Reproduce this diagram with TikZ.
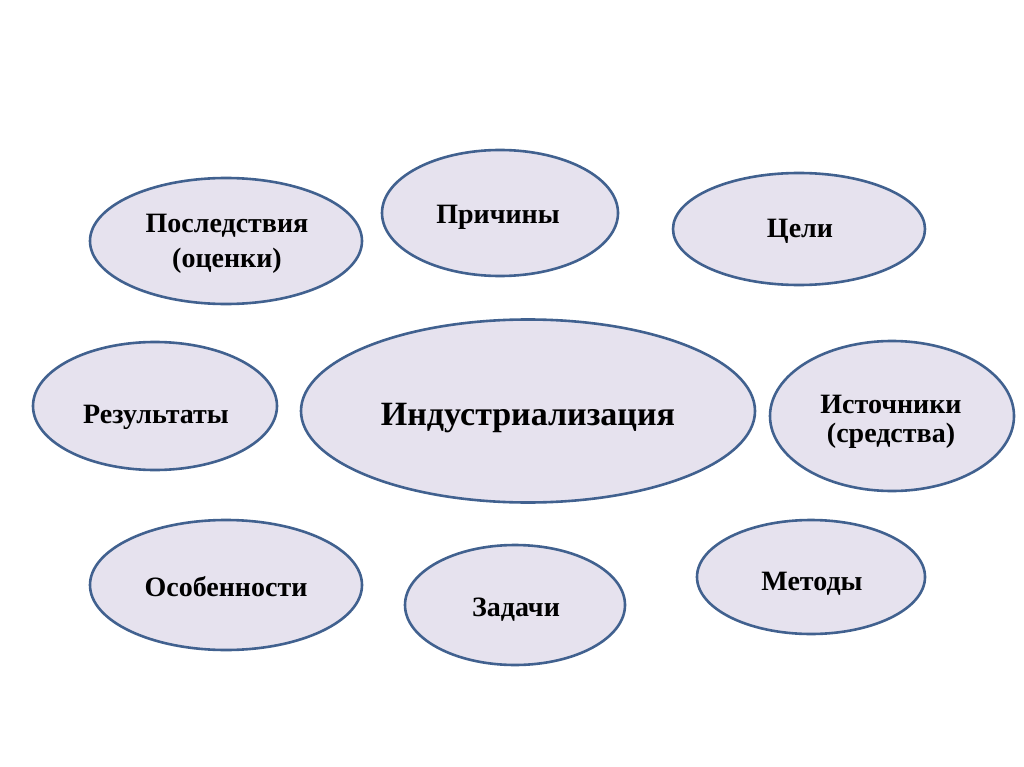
\documentclass[tikz,border=0pt]{standalone}
\usepackage{fontspec}
\setmainfont{Liberation Serif}
\usetikzlibrary{shapes.geometric}
\definecolor{efill}{HTML}{E6E2EE}
\definecolor{edraw}{HTML}{41618F}
\tikzset{
  bub/.style={ellipse, draw=edraw, fill=efill, line width=2.6pt, inner sep=0pt},
  lbl/.style={anchor=base, inner sep=0pt, font=\bfseries\fontsize{28}{34}\selectfont},
  biglbl/.style={lbl, font=\bfseries\fontsize{34}{40}\selectfont},
}
\begin{document}
\begin{tikzpicture}[x=1pt,y=-1pt]
\useasboundingbox (0,0) rectangle (1024,767);
\node[bub, minimum width=272, minimum height=126] (posl) at (226,241) {};
\node[bub, minimum width=236, minimum height=126] (prich) at (500,213) {};
\node[bub, minimum width=252, minimum height=112] (celi) at (799,229) {};
\node[bub, minimum width=244, minimum height=128] (rez) at (155,406) {};
\node[bub, minimum width=454, minimum height=183] (ind) at (528,411) {};
\node[bub, minimum width=244, minimum height=150] (ist) at (892,416) {};
\node[bub, minimum width=272, minimum height=130] (osob) at (226,585) {};
\node[bub, minimum width=220, minimum height=120] (zad) at (515,605) {};
\node[bub, minimum width=228, minimum height=114] (met) at (811,577) {};
\node[lbl] (posl1) at (227,233) {Последствия};
\node[lbl] (posl2) at (227,267) {(оценки)};
\node[lbl] (prichl) at (498,223) {Причины};
\node[lbl] (celil) at (800,237) {Цели};
\node[lbl] (rezl) at (156,423) {Результаты};
\node[biglbl] (indl) at (528,425) {Индустриализация};
\node[lbl] (ist1) at (891,413) {Источники};
\node[lbl] (ist2) at (891,442) {(средства)};
\node[lbl] (osobl) at (226,596) {Особенности};
\node[lbl] (zadl) at (516,616) {Задачи};
\node[lbl] (metl) at (812,590) {Методы};
\end{tikzpicture}
\end{document}
